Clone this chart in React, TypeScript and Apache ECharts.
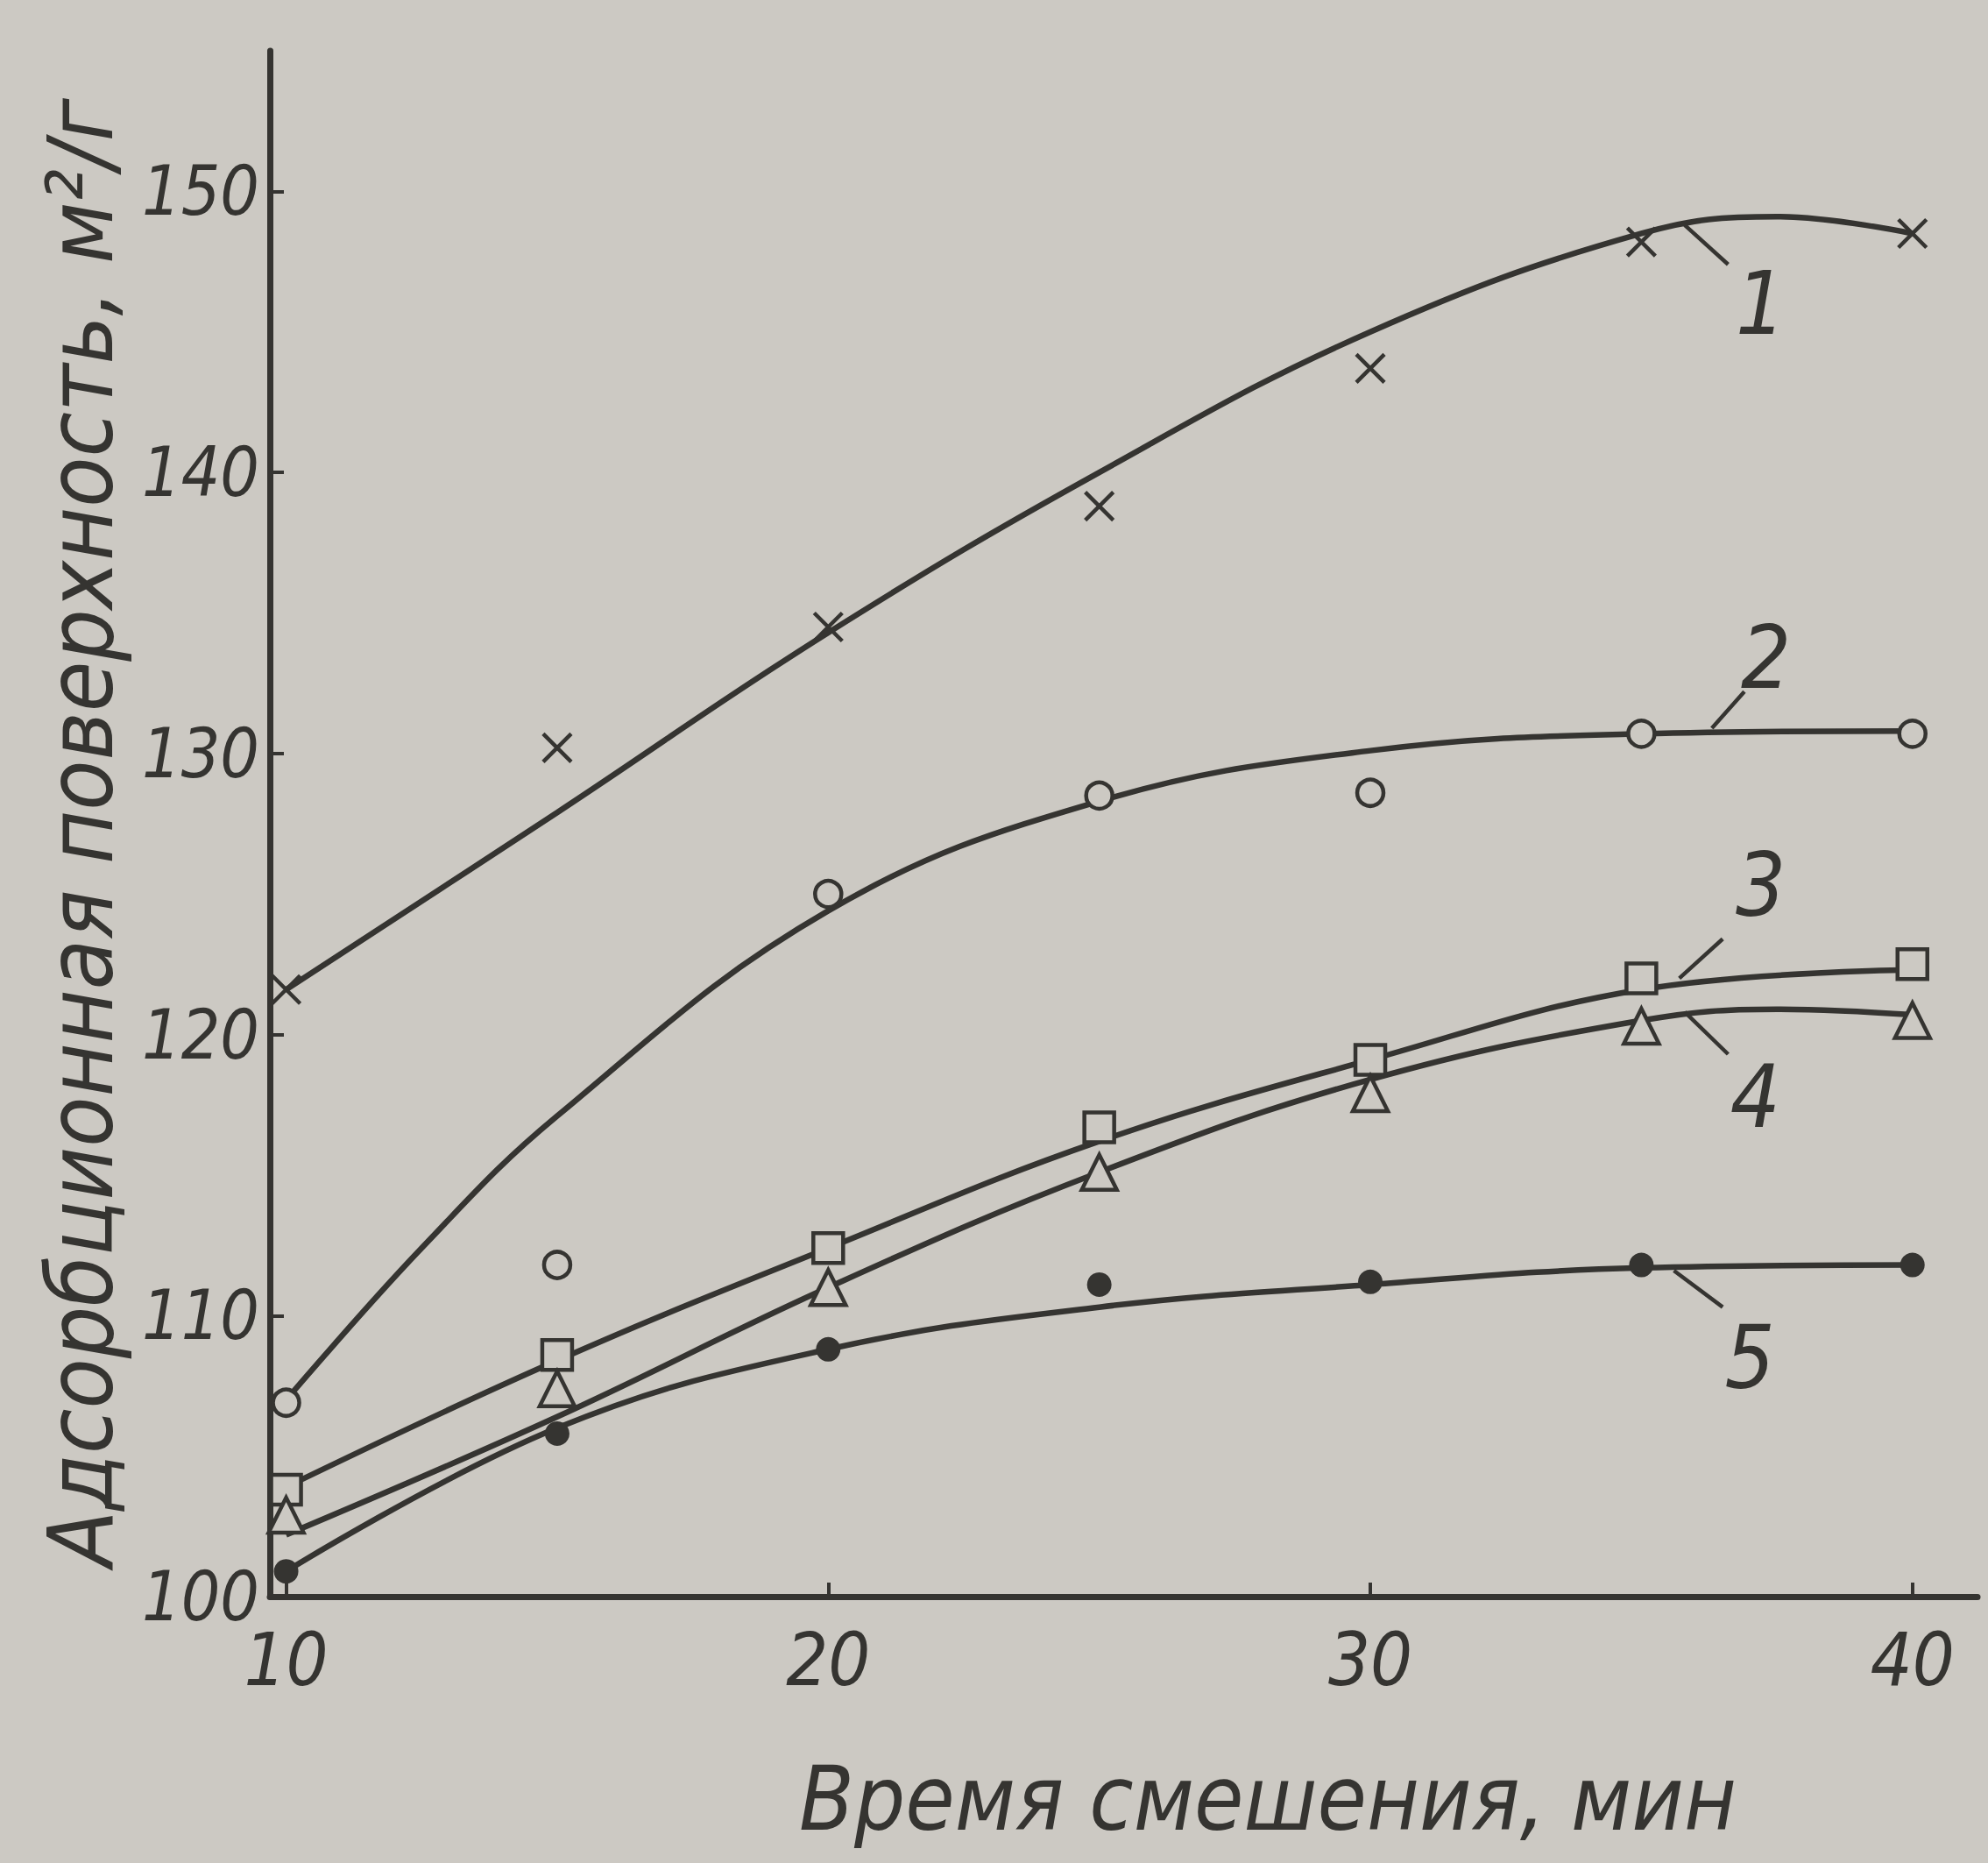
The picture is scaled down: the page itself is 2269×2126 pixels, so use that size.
import React, { useEffect, useRef } from 'react';
import * as echarts from 'echarts';

const W = 2269;
const H = 2126;
const BG = '#ccc9c3';
const INK = '#353431';
const FONT = "'Liberation Sans Narrow', 'DejaVu Sans Condensed', 'Liberation Sans', sans-serif";

// measured points (x = mixing time, min)
const pointX = [10, 15, 20, 25, 30, 35, 40];
const pts1 = [121.6, 130.2, 134.5, 138.8, 143.7, 148.2, 148.5];
const pts2 = [106.9, 111.8, 125.0, 128.5, 128.6, 130.7, 130.7];
const pts3 = [103.8, 108.6, 112.4, 116.7, 119.1, 122.0, 122.5];
const pts4 = [102.9, 107.4, 111.0, 115.1, 117.9, 120.3, 120.5];
const pts5 = [100.9, 105.8, 108.8, 111.1, 111.2, 111.8, 111.8];

// fitted curves
const curve1X = [10, 15, 20, 25, 30, 35, 37.5, 40];
const curve1Y = [121.6, 127.9, 134.3, 140.0, 145.0, 148.5, 149.1, 148.5];
const curve2X = [10, 12.5, 15, 20, 25, 30, 35, 40];
const curve2Y = [107.0, 112.4, 117.1, 124.4, 128.3, 130.1, 130.7, 130.8];
const curve3X = [10, 15, 20, 25, 30, 35, 40];
const curve3Y = [103.9, 108.4, 112.4, 116.2, 119.1, 121.6, 122.3];
const curve4X = [10, 15, 20, 25, 30, 35, 37.5, 40];
const curve4Y = [102.2, 106.4, 111.0, 115.1, 118.4, 120.5, 120.9, 120.7];
const curve5X = [10, 15, 20, 25, 30, 35, 40];
const curve5Y = [100.9, 106.0, 108.8, 110.3, 111.1, 111.7, 111.8];

const xTickLabels = [10, 20, 30, 40];
const yTickLabels = [100, 110, 120, 130, 140, 150];

// curve number labels: leader line from -> to, label at
const labelNames = ['1', '2', '3', '4', '5'];
const leaderFrom = [[35.8, 148.8], [36.3, 130.9], [35.7, 122.0], [35.8, 120.8], [35.6, 111.6]];
const leaderTo = [[36.6, 147.4], [36.9, 132.2], [36.5, 123.4], [36.6, 119.3], [36.5, 110.3]];
const labelAt = [[37.2, 146.0], [37.3, 133.4], [37.2, 125.3], [37.1, 117.8], [37.0, 108.5]];

const zip = (xs: number[], ys: number[]) => xs.map((x, i) => [x, ys[i]]);

const CROSS = 'path://M0,0L10,10M10,0L0,10';

function curve(xs: number[], ys: number[]) {
  return {
    type: 'line',
    data: zip(xs, ys),
    smooth: 0.4,
    showSymbol: false,
    symbol: 'none',
    lineStyle: { color: INK, width: 6.5 },
    z: 2,
  };
}

function points(ys: number[], symbol: string, size: number, filled: boolean) {
  return {
    type: 'scatter',
    data: zip(pointX, ys),
    symbol,
    symbolSize: size,
    itemStyle: {
      color: filled ? INK : symbol === CROSS ? 'none' : BG,
      borderColor: INK,
      borderWidth: filled ? 0 : 4.5,
      opacity: 1,
    },
    z: 5,
  };
}

export default function App() {
  const ref = useRef<HTMLDivElement>(null);
  useEffect(() => {
    document.body.style.margin = '0';
    const chart = echarts.init(ref.current!, null, { renderer: 'svg' });
    const option: any = {
      animation: false,
      backgroundColor: BG,
      grid: { left: 308, right: 12, top: 58, bottom: 304, containLabel: false },
      xAxis: {
        type: 'value',
        min: 9.7,
        max: 41.2,
        splitLine: { show: false },
        axisLine: { show: true, lineStyle: { color: INK, width: 7 } },
        axisTick: { show: true, inside: true, length: 16, customValues: xTickLabels, lineStyle: { color: INK, width: 4 } },
        axisLabel: {
          customValues: xTickLabels,
          color: INK,
          fontSize: 84,
          fontStyle: 'italic',
          fontFamily: FONT,
          margin: 30,
        },
      },
      yAxis: {
        type: 'value',
        min: 100,
        max: 155,
        interval: 10,
        splitLine: { show: false },
        axisLine: { show: true, lineStyle: { color: INK, width: 7 } },
        axisTick: { show: true, inside: true, length: 16, customValues: yTickLabels, lineStyle: { color: INK, width: 4 } },
        axisLabel: {
          customValues: yTickLabels,
          color: INK,
          fontSize: 78,
          fontStyle: 'italic',
          fontFamily: FONT,
          margin: 12,
        },
      },
      series: [
        curve(curve1X, curve1Y),
        curve(curve2X, curve2Y),
        curve(curve3X, curve3Y),
        curve(curve4X, curve4Y),
        curve(curve5X, curve5Y),
        points(pts1, CROSS, 32, false),
        points(pts2, 'circle', 30, false),
        points(pts3, 'rect', 34, false),
        points(pts4, 'triangle', 40, false),
        points(pts5, 'circle', 28, true),
      ],
    };
    chart.setOption(option);

    const graphics: any[] = [
      {
        type: 'text',
        x: 1447,
        y: 2052,
        style: {
          text: 'Время смешения, мин',
          fill: INK,
          font: `italic 102px ${FONT}`,
          align: 'center',
          verticalAlign: 'middle',
        },
      },
      {
        type: 'text',
        x: 92,
        y: 950,
        rotation: Math.PI / 2,
        style: {
          text: 'Адсорбционная поверхность, м²/г',
          fill: INK,
          font: `italic 104px ${FONT}`,
          align: 'center',
          verticalAlign: 'middle',
        },
      },
    ];
    labelNames.forEach((name, i) => {
      const a = chart.convertToPixel({ gridIndex: 0 }, leaderFrom[i]) as number[];
      const b = chart.convertToPixel({ gridIndex: 0 }, leaderTo[i]) as number[];
      const c = chart.convertToPixel({ gridIndex: 0 }, labelAt[i]) as number[];
      graphics.push({
        type: 'line',
        shape: { x1: a[0], y1: a[1], x2: b[0], y2: b[1] },
        style: { stroke: INK, lineWidth: 4.5 },
        z: 10,
      });
      graphics.push({
        type: 'text',
        x: c[0],
        y: c[1],
        style: {
          text: name,
          fill: INK,
          font: `italic 100px ${FONT}`,
          align: 'center',
          verticalAlign: 'middle',
        },
        z: 10,
      });
    });
    chart.setOption({ graphic: graphics });
    return () => chart.dispose();
  }, []);
  return <div ref={ref} style={{ width: W, height: H }} />;
}
